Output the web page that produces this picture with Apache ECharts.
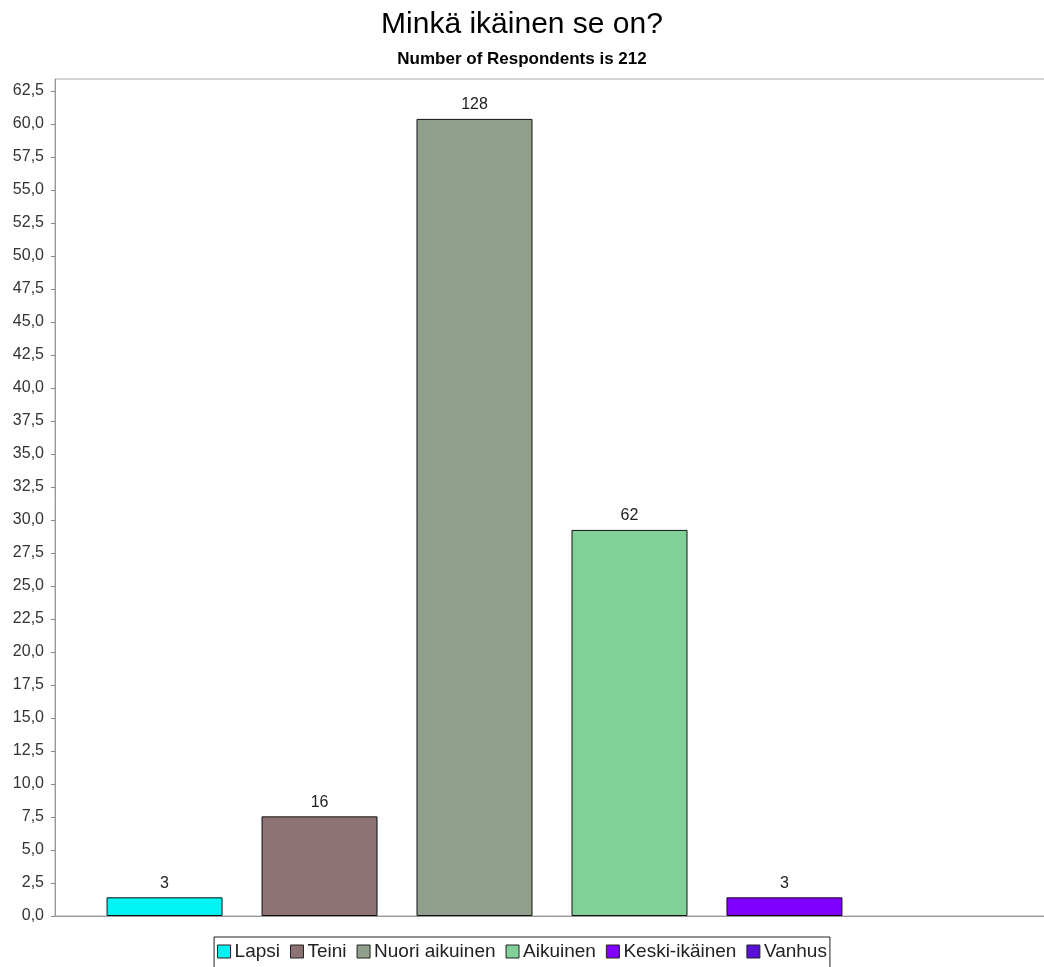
<!DOCTYPE html>
<html>
<head>
<meta charset="utf-8">
<title>Minkä ikäinen se on?</title>
<script src="https://cdn.jsdelivr.net/npm/echarts@6/dist/echarts.min.js"></script>
<style>
  html, body { margin: 0; padding: 0; background: #fff; }
  #chart { width: 1044px; height: 967px; }
</style>
</head>
<body>
<div id="chart"></div>
<script>
// Age groups and respondent counts
const categories = ['Lapsi', 'Teini', 'Nuori aikuinen', 'Aikuinen', 'Keski-ikäinen', 'Vanhus'];
const counts = [3, 16, 128, 62, 3, 0];
const totalRespondents = 212;
const colors = ['#00f4f4', '#8c7272', '#90a08c', '#80d098', '#8000ff', '#5a10d8'];
// Percent axis ticks
const yTicks = [0, 2.5, 5, 7.5, 10, 12.5, 15, 17.5, 20, 22.5, 25, 27.5, 30, 32.5, 35,
  37.5, 40, 42.5, 45, 47.5, 50, 52.5, 55, 57.5, 60, 62.5];
const yMax = 63.4;

const percents = counts.map(c => c / totalRespondents * 100);

const chart = echarts.init(document.getElementById('chart'), null, { renderer: 'canvas' });

const series = categories.map((name, i) => ({
  name: name,
  type: 'bar',
  data: [{ value: percents[i], count: counts[i] }],
  barWidth: 116,
  barGap: '33.6%',
  itemStyle: { color: colors[i], borderColor: '#111', borderWidth: counts[i] > 0 ? 1 : 0 },
  label: {
    show: true,
    position: 'top',
    distance: 6,
    fontFamily: 'Liberation Sans',
    fontSize: 16,
    color: '#222',
    formatter: p => (p.data.count > 0 ? String(p.data.count) : '')
  },
  emphasis: { disabled: true }
}));

chart.setOption({
  animation: false,
  backgroundColor: '#fff',
  color: colors,
  title: {
    text: 'Minkä ikäinen se on?',
    subtext: 'Number of Respondents is 212',
    left: 'center',
    top: 5,
    itemGap: 11,
    textStyle: { fontFamily: 'Liberation Sans', fontSize: 30, fontWeight: 'normal', color: '#000' },
    subtextStyle: { fontFamily: 'Liberation Sans', fontSize: 17, fontWeight: 'bold', color: '#000' }
  },
  legend: {
    bottom: -6,
    left: 'center',
    data: categories,
    icon: 'rect',
    itemWidth: 13,
    itemHeight: 13,
    itemGap: 10,
    padding: [5, 3, 12, 3],
    borderColor: '#222',
    borderWidth: 1,
    textStyle: { fontFamily: 'Liberation Sans', fontSize: 19, color: '#222', padding: [0, 0, 0, -1] },
    itemStyle: { borderColor: '#222', borderWidth: 1 },
    selectedMode: false
  },
  grid: {
    left: 55, width: 994, top: 79, bottom: 51,
    outerBoundsMode: 'none',
    containLabel: false,
    show: true, borderColor: '#aaa', borderWidth: 1, backgroundColor: '#fff'
  },
  xAxis: {
    type: 'category',
    data: [''],
    axisLine: { show: true, lineStyle: { color: '#999' } },
    axisTick: { show: false },
    axisLabel: { show: false },
    splitLine: { show: false }
  },
  yAxis: {
    type: 'value',
    min: 0,
    max: yMax,
    axisLine: { show: true, lineStyle: { color: '#999' } },
    axisTick: { show: true, length: 4, lineStyle: { color: '#888' }, customValues: yTicks },
    axisLabel: {
      customValues: yTicks,
      fontFamily: 'Liberation Sans',
      fontSize: 16,
      color: '#333',
      margin: 11,
      formatter: v => v.toFixed(1).replace('.', ',')
    },
    splitLine: { show: false }
  },
  series: series
});
</script>
</body>
</html>
